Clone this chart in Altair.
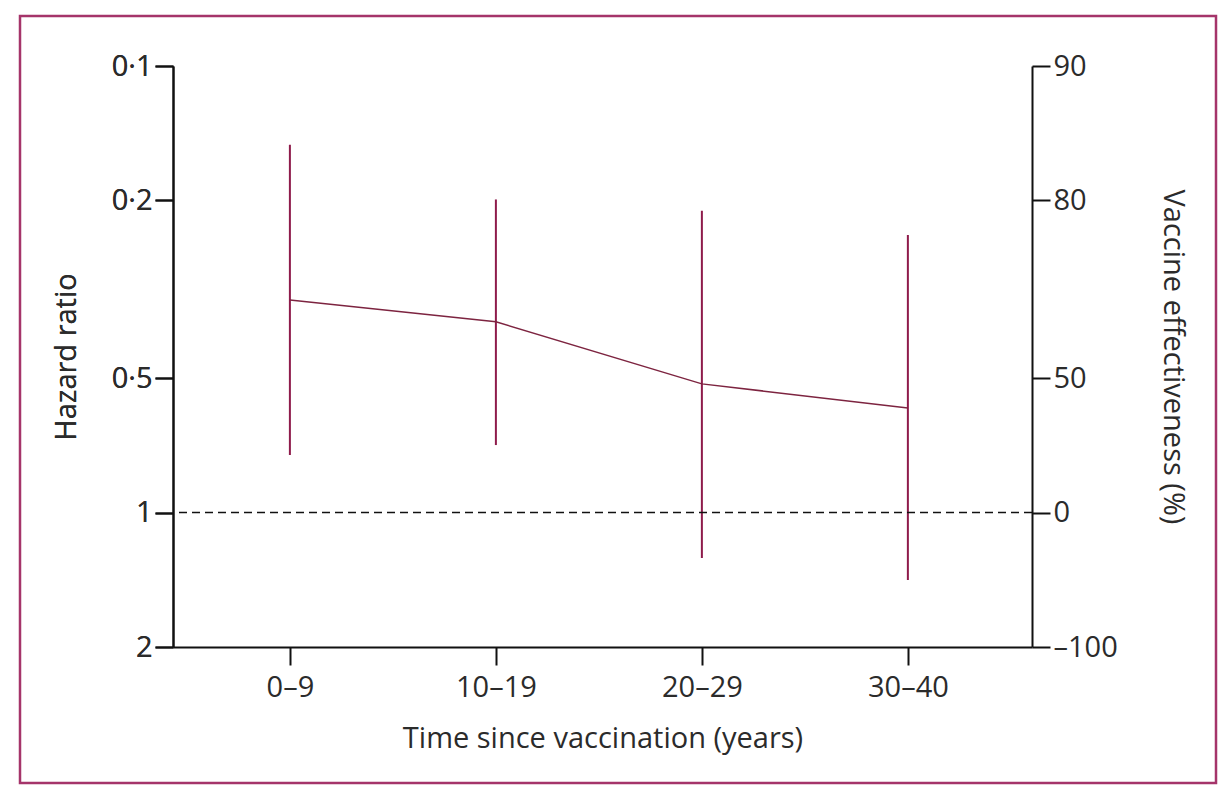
import altair as alt
import pandas as pd

# Hazard ratio (with 95% CI) by time since vaccination
periods = ["0–9", "10–19", "20–29", "30–40"]
hazard_ratio = [0.334, 0.374, 0.515, 0.583]
ci_low = [0.150, 0.199, 0.211, 0.239]
ci_high = [0.743, 0.706, 1.264, 1.415]

hr_ticks = [0.1, 0.2, 0.5, 1, 2]
reference_hr = [1]

df = pd.DataFrame({"period": periods, "hr": hazard_ratio, "lo": ci_low, "hi": ci_high})
ref = pd.DataFrame({"hr": reference_hr})

FONT = "Open Sans"
TEXT = "#2b2b2b"
WINE = "#8e1b4b"
FRAME = "#a5346a"

W, H = 859, 581
PAD_L, PAD_T = 173, 66

x_enc = alt.X(
    "period:N",
    sort=periods,
    scale=alt.Scale(type="point", padding=0.585, align=0.485),
    axis=alt.Axis(
        title="Time since vaccination (years)",
        labelAngle=0,
        labelPadding=8,
        titlePadding=22,
    ),
)

y_scale = alt.Scale(type="log", domain=[0.1, 2], reverse=True, nice=False)

left_axis = alt.Axis(
    orient="left",
    values=hr_ticks,
    title="Hazard ratio",
    labelExpr="replace(format(datum.value, '~g'), '.', '·')",
    titlePadding=30,
)

right_axis = alt.Axis(
    orient="right",
    values=hr_ticks,
    title="Vaccine effectiveness (%)",
    labelExpr="replace(format(round((1 - datum.value) * 100), 'd'), '−', '–')",
    titlePadding=40,
)

bars = alt.Chart(df).mark_rule(color=WINE, strokeWidth=2).encode(
    x=x_enc,
    y=alt.Y("lo:Q", scale=y_scale, axis=left_axis),
    y2="hi:Q",
)

trend = alt.Chart(df).mark_line(color="#7d2440", strokeWidth=1.5).encode(
    x=x_enc,
    y=alt.Y("hr:Q", scale=y_scale, axis=left_axis),
)

no_effect = alt.Chart(ref).mark_rule(
    color="#111111", strokeWidth=1.6, strokeDash=[8, 5]
).encode(
    y=alt.Y("hr:Q", scale=y_scale, axis=right_axis),
)

# outer figure border
frame = alt.Chart(ref).mark_rect(
    fill="transparent", stroke=FRAME, strokeWidth=2.5
).encode(
    x=alt.value(20 - PAD_L),
    x2=alt.value(1216 - PAD_L),
    y=alt.value(16 - PAD_T),
    y2=alt.value(783 - PAD_T),
)

chart = (
    alt.layer(bars, trend, no_effect, frame)
    .resolve_scale(y="shared")
    .resolve_axis(y="independent")
    .properties(
        width=W,
        height=H,
        autosize=alt.AutoSizeParams(type="none"),
        padding={"left": PAD_L, "top": PAD_T, "right": 1223 - PAD_L - W, "bottom": 786 - PAD_T - H},
        background="white",
    )
    .configure_view(stroke="transparent")
    .configure_axis(
        grid=False,
        domainColor="#111111",
        domainWidth=2,
        tickColor="#111111",
        tickWidth=2,
        tickSize=18,
        labelPadding=3,
        labelFont=FONT,
        labelFontSize=29,
        labelColor=TEXT,
        titleFont=FONT,
        titleFontSize=29,
        titleFontWeight="normal",
        titleColor=TEXT,
    )
)

chart.save("out.html", embed_options={"renderer": "svg", "actions": False})
